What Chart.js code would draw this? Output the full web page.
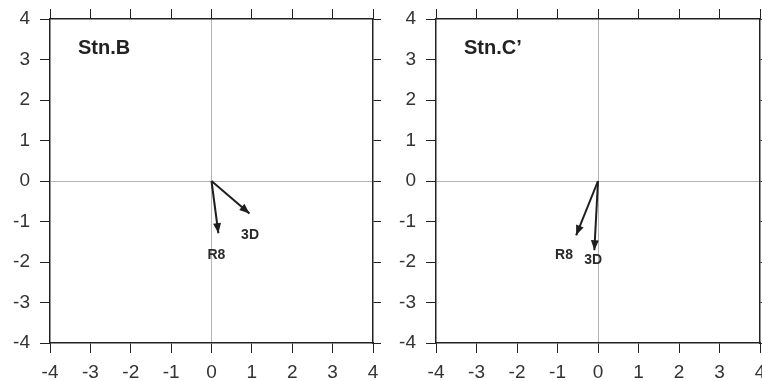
<!DOCTYPE html>
<html lang="en">
<head>
    <meta charset="UTF-8">
    <title>Stn.B / Stn.C' vectors</title>
    <script src="https://cdn.jsdelivr.net/npm/chart.js"></script>
    <style>
        html, body { margin: 0; padding: 0; background: #fff; overflow: hidden; }
        .wrap { position: relative; width: 762px; height: 381px; overflow: hidden; }
        #chartB { position: absolute; left: 0; top: 0; }
        #chartC { position: absolute; left: 380px; top: 0; }
    </style>
</head>
<body>
    <div class="wrap">
        <canvas id="chartB" width="381" height="381"></canvas>
        <canvas id="chartC" width="400" height="381"></canvas>
    </div>
<script>
    // values
    const axisTicks = [-4, -3, -2, -1, 0, 1, 2, 3, 4];
    const arrowNames = ["3D", "R8"];

    const stnB_tipX = [0.94, 0.17];
    const stnB_tipY = [-0.80, -1.29];
    const stnB_labelX = [0.955, 0.12];
    const stnB_labelY = [-1.34, -1.83];

    const stnC_tipX = [-0.09, -0.54];
    const stnC_tipY = [-1.71, -1.34];
    const stnC_labelX = [-0.12, -0.84];
    const stnC_labelY = [-1.96, -1.83];

    const FONT = "'Liberation Sans', Arial, Helvetica, sans-serif";
    const INK = '#1e1e1e';

    // arrow heads + labels + panel title
    const vectorPlugin = {
        id: 'vectors',
        afterDatasetsDraw(chart, args, opts) {
            const ctx = chart.ctx;
            const xs = chart.scales.x, ys = chart.scales.y;
            ctx.save();
            chart.data.datasets.forEach((ds, i) => {
                const pts = chart.getDatasetMeta(i).data;
                const a = pts[0], b = pts[1];
                const ang = Math.atan2(b.y - a.y, b.x - a.x);
                const len = 10, hw = 4;
                ctx.fillStyle = INK;
                ctx.beginPath();
                ctx.moveTo(b.x, b.y);
                ctx.lineTo(b.x - len * Math.cos(ang) + hw * Math.sin(ang), b.y - len * Math.sin(ang) - hw * Math.cos(ang));
                ctx.lineTo(b.x - len * Math.cos(ang) - hw * Math.sin(ang), b.y - len * Math.sin(ang) + hw * Math.cos(ang));
                ctx.closePath();
                ctx.fill();
            });
            ctx.font = 'bold 14px ' + FONT;
            ctx.textAlign = 'center';
            ctx.textBaseline = 'middle';
            ctx.fillStyle = '#2a2a2a';
            opts.names.forEach((n, i) => {
                ctx.fillText(n, xs.getPixelForValue(opts.lx[i]), ys.getPixelForValue(opts.ly[i]));
            });
            ctx.font = 'bold 20px ' + FONT;
            ctx.textAlign = 'left';
            ctx.fillStyle = '#222';
            ctx.fillText(opts.title, chart.chartArea.left + 28, chart.chartArea.top + 29);
            ctx.restore();
        }
    };

    function makePanel(id, title, tipX, tipY, labelX, labelY, leftW, rightW) {
        const datasets = arrowNames.map((n, i) => ({
            label: n,
            data: [{ x: 0, y: 0 }, { x: tipX[i], y: tipY[i] }],
            borderColor: INK,
            borderWidth: 2,
            pointRadius: 0,
            showLine: true
        }));
        const zeroGrid = c => (c.tick && c.tick.value === 0) ? '#b4b4b4' : 'rgba(0,0,0,0)';
        const mainTicks = {
            stepSize: 1,
            color: '#333',
            font: { family: FONT, size: 19 },
            padding: 0
        };
        const border = { display: true, color: '#222', width: 1.5 };
        const noPad = s => { s.paddingLeft = 0; s.paddingRight = 0; s.paddingTop = 0; s.paddingBottom = 0; };
        new Chart(document.getElementById(id), {
            type: 'scatter',
            data: { datasets: datasets },
            plugins: [vectorPlugin],
            options: {
                responsive: false,
                animation: false,
                layout: { padding: 0 },
                plugins: {
                    legend: { display: false },
                    tooltip: { enabled: false },
                    vectors: { title: title, names: arrowNames, lx: labelX, ly: labelY }
                },
                scales: {
                    x: {
                        type: 'linear', position: 'bottom', min: -4, max: 4,
                        afterBuildTicks: s => { s.ticks = axisTicks.map(v => ({ value: v })); },
                        ticks: Object.assign({}, mainTicks, { padding: 8 }),
                        grid: { color: zeroGrid, tickColor: '#222', tickLength: 10, lineWidth: 1 },
                        border: border,
                        afterFit: s => { s.height = 38; noPad(s); }
                    },
                    y: {
                        type: 'linear', position: 'left', min: -4, max: 4,
                        afterBuildTicks: s => { s.ticks = axisTicks.map(v => ({ value: v })); },
                        ticks: Object.assign({}, mainTicks, { padding: 10 }),
                        grid: { color: zeroGrid, tickColor: '#222', tickLength: 10, lineWidth: 1 },
                        border: border,
                        afterFit: s => { s.width = leftW; noPad(s); }
                    },
                    x2: {
                        type: 'linear', position: 'top', min: -4, max: 4,
                        afterBuildTicks: s => { s.ticks = axisTicks.map(v => ({ value: v })); },
                        ticks: { display: false },
                        grid: { drawOnChartArea: false, color: '#222', tickColor: '#222', tickLength: 10 },
                        border: border,
                        afterFit: s => { s.height = 19; noPad(s); }
                    },
                    y2: {
                        type: 'linear', position: 'right', min: -4, max: 4,
                        afterBuildTicks: s => { s.ticks = axisTicks.map(v => ({ value: v })); },
                        ticks: { display: false },
                        grid: { drawOnChartArea: false, color: '#222', tickColor: '#222', tickLength: 10 },
                        border: border,
                        afterFit: s => { s.width = rightW; noPad(s); }
                    }
                }
            }
        });
    }

    makePanel('chartB', 'Stn.B', stnB_tipX, stnB_tipY, stnB_labelX, stnB_labelY, 50, 8);
    makePanel('chartC', 'Stn.C\u2019', stnC_tipX, stnC_tipY, stnC_labelX, stnC_labelY, 56, 20);
</script>
</body>
</html>
